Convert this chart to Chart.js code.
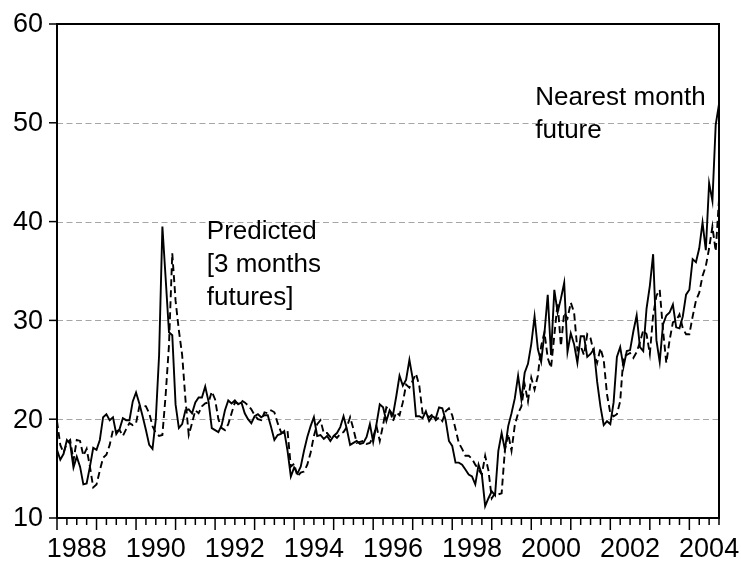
<!DOCTYPE html>
<html>
<head>
<meta charset="utf-8">
<script src="https://cdn.jsdelivr.net/npm/chart.js@4.4.0/dist/chart.umd.min.js"></script>
<style>
  html, body { margin: 0; padding: 0; background: #ffffff; }
  #wrap { width: 741px; height: 564px; position: relative; }
</style>
</head>
<body>
<div id="wrap"><canvas id="c" width="741" height="564"></canvas></div>
<script>
// Monthly observations, 1988M01 .. 2004M10
const startYear = 1988;
const endYear = 2004.75;

// Nearest month future (solid line)
const nearestMonth = [
  16.9, 15.9, 16.5, 17.9, 17.5, 15.1, 16.2, 15.2, 13.4, 13.5, 15.2, 17.1,
  16.9, 17.9, 20.2, 20.5, 19.9, 20.2, 18.5, 19.0, 20.1, 19.9, 19.9, 21.8,
  22.7, 21.6, 20.3, 18.9, 17.4, 17.0, 20.0, 26.5, 39.5, 34.2, 28.8, 28.5,
  21.5, 19.1, 19.5, 20.9, 21.0, 20.6, 21.7, 22.2, 22.2, 23.3, 21.8, 19.1,
  18.9, 18.7, 19.4, 20.9, 21.9, 21.6, 21.9, 21.5, 21.7, 20.6, 20.0, 19.6,
  20.3, 20.5, 20.2, 20.4, 20.4, 19.2, 17.9, 18.4, 18.5, 18.8, 16.8, 14.2,
  15.1, 14.5, 15.2, 16.8, 18.2, 19.3, 20.2, 18.3, 18.4, 18.0, 18.3, 17.8,
  18.3, 18.6, 19.2, 20.3, 19.0, 17.4, 17.6, 17.8, 17.5, 17.6, 18.2, 19.5,
  17.7, 19.5, 21.5, 21.2, 19.8, 20.9, 20.4, 22.3, 24.4, 23.4, 24.0, 26.0,
  24.1, 20.3, 20.3, 20.1, 20.8, 19.8, 20.3, 20.1, 21.2, 21.1, 19.9, 17.8,
  17.3, 15.6, 15.6, 15.4, 14.9, 14.4, 14.2, 13.4, 15.4, 14.4, 11.2, 12.0,
  12.7, 12.3, 16.8, 18.6, 16.9, 19.3, 20.6, 22.1, 24.4, 22.0, 24.7, 25.6,
  27.6, 30.4, 27.1, 25.8, 28.7, 32.6, 26.5, 33.1, 30.8, 32.2, 33.8, 26.8,
  28.7, 27.6, 25.7, 28.4, 28.4, 26.3, 26.6, 27.1, 23.8, 21.3, 19.4, 19.8,
  19.5, 21.7, 26.3, 27.3, 25.3, 26.9, 27.0, 28.9, 30.5, 27.3, 26.9, 31.2,
  33.5, 36.7, 28.0, 25.8, 29.6, 30.5, 30.8, 31.6, 29.3, 29.2, 30.4, 32.6,
  33.1, 36.2, 35.9, 37.3, 39.9, 37.1, 43.9, 42.1, 49.8, 51.9
];

// Predicted [3 months futures] (dashed line)
const predicted = [
  19.8, 17.4, 16.6, 17.6, 17.9, 15.8, 17.9, 17.8, 16.3, 17.0, 15.2, 13.1,
  13.4, 14.8, 16.1, 16.4, 17.4, 18.9, 18.8, 18.9, 18.3, 19.0, 19.6, 19.4,
  19.6, 21.3, 21.4, 21.3, 20.6, 19.3, 18.6, 18.3, 18.4, 22.5, 27.5, 36.8,
  32.0, 29.0, 26.5, 22.0, 18.4, 19.6, 20.9, 20.6, 21.3, 21.6, 21.7, 22.8,
  22.0, 20.0, 19.1, 18.9, 19.5, 20.6, 21.7, 21.6, 21.9, 21.7, 21.4, 21.0,
  20.4, 20.0, 19.9, 20.7, 20.6, 20.9, 20.7, 19.6, 18.7, 18.6, 18.8, 15.2,
  15.5, 14.2, 14.6, 14.7, 15.4, 16.6, 18.3, 19.5, 19.9, 18.6, 18.6, 18.2,
  18.4, 18.1, 18.5, 18.7, 19.2, 20.2, 19.0, 17.6, 17.7, 17.8, 17.5, 17.6,
  18.2, 19.3, 17.8, 19.4, 21.2, 21.0, 19.8, 20.7, 20.4, 21.7, 23.5, 23.2,
  23.9, 24.6, 23.4, 20.6, 20.5, 20.2, 20.5, 19.9, 20.2, 19.8, 20.8, 21.1,
  20.4, 19.0, 17.6, 17.0, 16.3, 16.3, 16.0, 15.4, 14.9, 14.4, 16.3, 14.8,
  12.0, 12.5, 12.4, 12.5, 16.9, 18.5, 16.8, 19.4, 20.6, 21.3, 23.5, 21.8,
  24.2, 23.0, 24.4, 27.4, 28.8, 26.2, 25.2, 28.5, 31.8, 27.4, 30.8, 30.2,
  31.8, 30.8, 27.0, 27.4, 26.5, 28.6, 28.2, 26.7, 25.7, 27.2, 26.0, 22.5,
  20.6, 20.3, 20.5, 21.8, 26.4, 26.5, 26.7, 26.2, 26.8, 27.8, 29.0, 28.6,
  26.6, 30.5, 32.5, 33.1, 29.0, 25.7, 28.0, 29.8, 30.0, 30.6, 29.2, 28.6,
  28.6, 30.4, 32.0, 32.8, 34.5, 35.5, 37.3, 39.5, 37.0, 42.2
];

const yTicks = [10, 20, 30, 40, 50, 60];
const gridValues = [20, 30, 40, 50];
const yearLabels = ['1988', '1990', '1992', '1994', '1996', '1998', '2000', '2002', '2004'];

const annotations = [
  { lines: ['Predicted', '[3 months', 'futures]'], year: 1991.79, value: 38.2 },
  { lines: ['Nearest month', 'future'], year: 2000.1, value: 51.85 }
];

const toPoints = arr => arr.map((v, i) => ({ x: startYear + i / 12, y: v }));

const FONT = '"Liberation Sans", Arial, Helvetica, sans-serif';

const decor = {
  id: 'decor',
  beforeDatasetsDraw(chart) {
    const { ctx, chartArea: a, scales: { y } } = chart;
    ctx.save();
    ctx.strokeStyle = '#a6a6a6';
    ctx.lineWidth = 1;
    ctx.setLineDash([6, 3.5]);
    gridValues.forEach(v => {
      const py = Math.round(y.getPixelForValue(v)) + 0.5;
      ctx.beginPath();
      ctx.moveTo(a.left, py);
      ctx.lineTo(a.right, py);
      ctx.stroke();
    });
    ctx.restore();
  },
  afterDatasetsDraw(chart) {
    const { ctx, chartArea: a, scales: { x, y } } = chart;
    ctx.save();
    ctx.setLineDash([]);
    ctx.strokeStyle = '#000';
    ctx.fillStyle = '#000';
    // frame
    ctx.lineWidth = 2;
    ctx.strokeRect(a.left, a.top, a.right - a.left, a.bottom - a.top);
    // y ticks and labels
    ctx.lineWidth = 1.5;
    ctx.font = '27px ' + FONT;
    ctx.textAlign = 'right';
    ctx.textBaseline = 'middle';
    yTicks.forEach(v => {
      const py = y.getPixelForValue(v);
      ctx.beginPath();
      ctx.moveTo(a.left - 8, py);
      ctx.lineTo(a.left, py);
      ctx.stroke();
      ctx.fillText(String(v), a.left - 14, py + 1);
    });
    // x ticks: quarterly minor, yearly major
    for (let t = startYear; t <= endYear + 1e-6; t += 0.25) {
      const px = x.getPixelForValue(t);
      const major = Math.abs(t - Math.round(t)) < 1e-6;
      ctx.beginPath();
      ctx.moveTo(px, a.bottom);
      ctx.lineTo(px, a.bottom + (major ? 12 : 7));
      ctx.stroke();
    }
    ctx.textAlign = 'center';
    ctx.textBaseline = 'alphabetic';
    yearLabels.forEach(lbl => {
      const px = x.getPixelForValue(Number(lbl) + 0.5);
      ctx.fillText(lbl, px, a.bottom + 39);
    });
    // annotations
    ctx.font = '26px ' + FONT;
    ctx.textAlign = 'left';
    annotations.forEach(an => {
      const px = x.getPixelForValue(an.year);
      const py = y.getPixelForValue(an.value);
      an.lines.forEach((ln, k) => ctx.fillText(ln, px, py + k * 33));
    });
    ctx.restore();
  }
};

new Chart(document.getElementById('c'), {
  type: 'line',
  data: {
    datasets: [
      {
        label: 'Nearest month future',
        data: toPoints(nearestMonth),
        borderColor: '#000',
        borderWidth: 1.9,
        pointRadius: 0,
        tension: 0,
        fill: false
      },
      {
        label: 'Predicted [3 months futures]',
        data: toPoints(predicted),
        borderColor: '#000',
        borderWidth: 1.9,
        borderDash: [7, 4],
        pointRadius: 0,
        tension: 0,
        fill: false
      }
    ]
  },
  options: {
    responsive: false,
    animation: false,
    devicePixelRatio: 1,
    layout: { padding: { left: 57, right: 22, top: 24, bottom: 46 } },
    plugins: { legend: { display: false }, tooltip: { enabled: false } },
    scales: {
      x: {
        type: 'linear',
        min: startYear,
        max: endYear,
        ticks: { display: false },
        grid: { display: false, drawTicks: false },
        border: { display: false },
        afterFit: s => { s.height = 0; }
      },
      y: {
        type: 'linear',
        min: 10,
        max: 60,
        ticks: { display: false, stepSize: 10 },
        grid: { display: false, drawTicks: false },
        border: { display: false },
        afterFit: s => { s.width = 0; }
      }
    }
  },
  plugins: [decor]
});
</script>
</body>
</html>
